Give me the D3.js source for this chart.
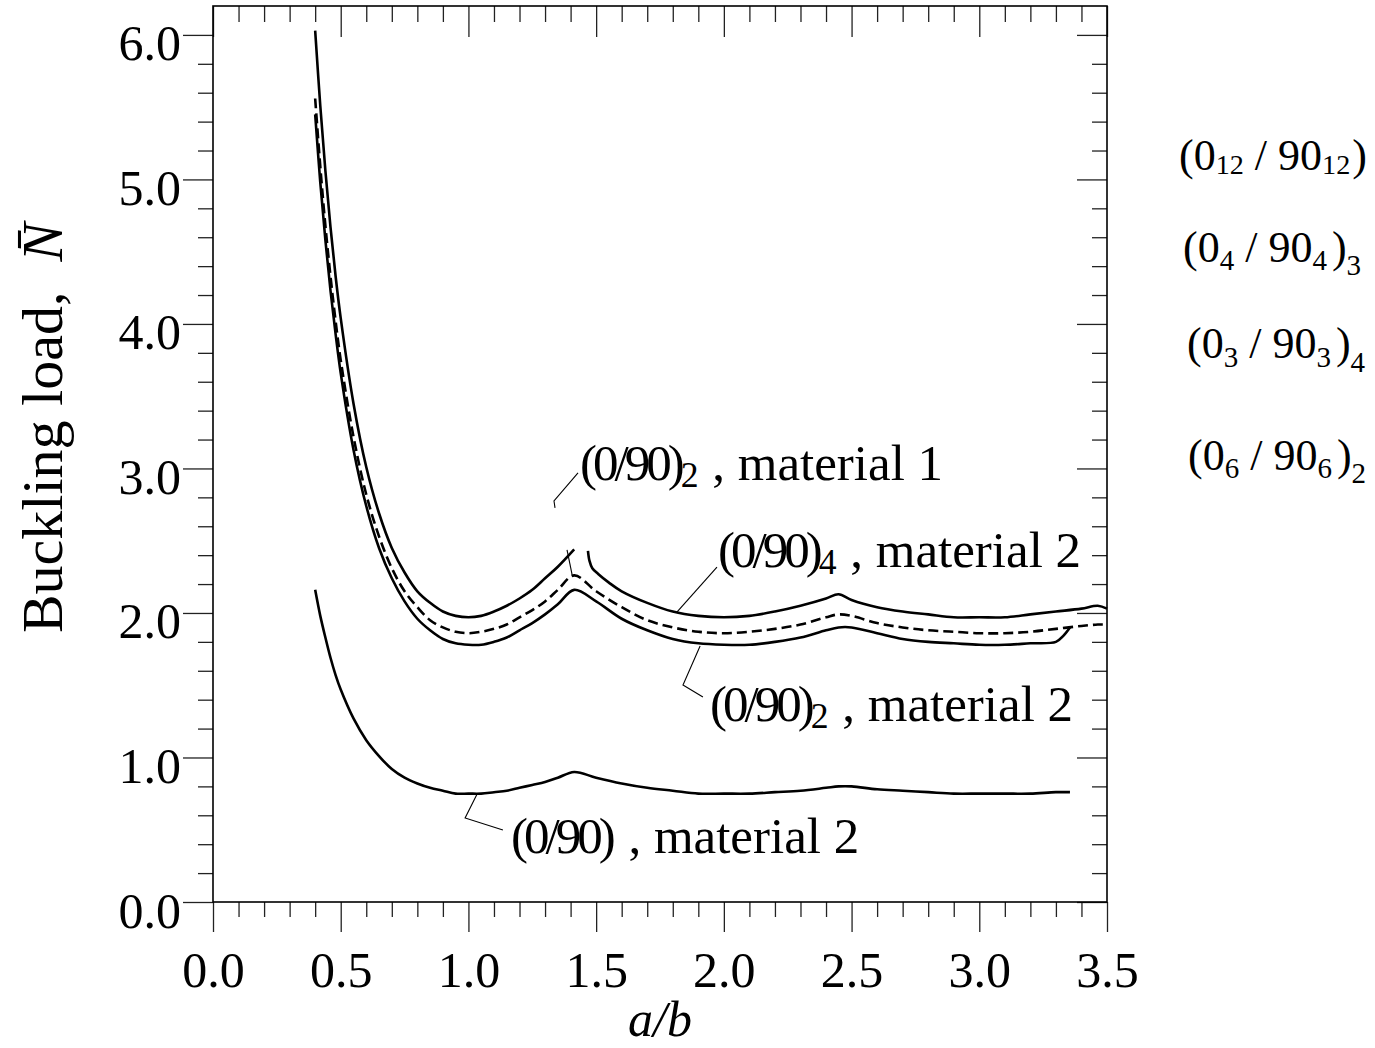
<!DOCTYPE html>
<html>
<head>
<meta charset="utf-8">
<script src="https://cdn.jsdelivr.net/npm/d3@7"></script>
<style>
  body { margin: 0; background: #fff; }
  svg { display: block; font-family: "Liberation Serif", "Times New Roman", serif; }
</style>
</head>
<body>
<svg id="chart"></svg>
<script>
const W = 1375, H = 1048;

// a/b positions used by the curves
const aBranch1 = [0.40,0.42,0.44,0.46,0.48,0.50,0.55,0.60,0.65,0.70,0.75,0.80,0.85,0.90,0.95,1.00,1.05,1.10,1.15,1.20,1.25,1.30,1.35,1.414];
const aBranch2 = [1.50,1.60,1.70,1.80,1.90,2.00,2.10,2.20,2.30,2.40,2.449];
const aBranch3 = [2.50,2.60,2.70,2.80,2.90,3.00,3.10,3.20,3.30];
const aTail = [3.40,3.464,3.50];

// (0/90)2, material 1 : top solid curve, broken near a/b = 1.45
const mat1LeftN = [6.03,5.51,5.06,4.67,4.33,4.04,3.45,3.01,2.69,2.45,2.28,2.15,2.07,2.01,1.98,1.97,1.98,2.01,2.05,2.10,2.16,2.24,2.32,2.44];
const mat1RightA = [1.468,1.474,1.485,1.508,1.55,1.60,1.70,1.80,1.90,2.00,2.10,2.20,2.30,2.40,2.449,2.50,2.60,2.70,2.80,2.90,3.00,3.10,3.20,3.30,3.40,3.464,3.50];
const mat1RightN = [2.43,2.36,2.31,2.27,2.21,2.15,2.07,2.01,1.98,1.97,1.98,2.01,2.05,2.10,2.13,2.09,2.04,2.01,1.99,1.97,1.97,1.97,1.99,2.01,2.03,2.05,2.03];

// dashed curve
const dashedN = [5.56,5.09,4.68,4.33,4.02,3.75,3.22,2.82,2.53,2.31,2.15,2.04,1.95,1.90,1.87,1.86,1.87,1.89,1.92,1.97,2.02,2.08,2.16,2.26,
  2.15,2.04,1.95,1.90,1.87,1.86,1.87,1.89,1.92,1.97,1.99,
  1.98,1.93,1.90,1.88,1.87,1.86,1.86,1.87,1.89,1.91,1.92,1.92];

// (0/90)2, material 2 : lower solid curve
const lowerHookA = [3.328,3.355];
const lowerN = [5.45,4.98,4.58,4.23,3.93,3.66,3.13,2.74,2.45,2.24,2.08,1.96,1.88,1.82,1.79,1.78,1.78,1.80,1.83,1.88,1.93,1.99,2.06,2.16,
  2.08,1.96,1.88,1.82,1.79,1.78,1.78,1.80,1.83,1.88,1.90,
  1.90,1.86,1.82,1.80,1.79,1.78,1.78,1.79,1.80,
  1.84,1.90];

// (0/90), material 2 : bottom curve
const bottomEndA = [3.355];
const bottomN = [2.16,1.98,1.83,1.69,1.57,1.47,1.27,1.12,1.01,0.92,0.86,0.82,0.79,0.77,0.75,0.75,0.75,0.76,0.77,0.79,0.81,0.83,0.86,0.90,
  0.86,0.82,0.79,0.77,0.75,0.75,0.75,0.76,0.77,0.79,0.80,
  0.80,0.78,0.77,0.76,0.75,0.75,0.75,0.75,0.76,
  0.76];

// leader lines (a/b, N)
const leaders = [
  [[1.429,2.969],[1.335,2.775],[1.339,2.727]],
  [[1.973,2.318],[1.817,2.007]],
  [[1.918,1.419],[1.840,1.502],[1.907,1.772]],
  [[1.135,0.498],[0.987,0.581],[1.034,0.747]],
  [[1.386,2.436],[1.406,2.263]]
];

const xMajor = [0,0.5,1,1.5,2,2.5,3,3.5];
const yMajor = [0,1,2,3,4,5,6];

const zip = (a, n) => a.map((v, i) => [v, n[i]]);
const aFull = aBranch1.concat(aBranch2, aBranch3, aTail);

const svg = d3.select("#chart").attr("width", W).attr("height", H);

const x = d3.scaleLinear().domain([0, 3.5]).range([213, 1107]);
const y = d3.scaleLinear().domain([0, 6.2]).range([902, 6]);

const xMinor = d3.range(0, 36).map(i => i / 10).filter(v => Math.abs(v * 2 - Math.round(v * 2)) > 1e-6);
const yMinor = d3.range(0, 31).map(i => i / 5).filter(v => Math.abs(v - Math.round(v)) > 1e-6 && v < 6.2);

function styleAxis(g) {
  g.select(".domain").remove();
  g.selectAll(".tick line").attr("stroke", "#222").attr("stroke-width", 1.3);
  g.selectAll("text").attr("font-family", "Liberation Serif").attr("font-size", 50).attr("fill", "#000");
}

// bottom
svg.append("g").attr("transform", "translate(0,902)")
  .call(d3.axisBottom(x).tickValues(xMajor).tickSize(30).tickPadding(19).tickFormat(d3.format(".1f")))
  .call(styleAxis);
svg.append("g").attr("transform", "translate(0,902)")
  .call(d3.axisBottom(x).tickValues(xMinor).tickSize(15).tickFormat(""))
  .call(styleAxis);
// top (ticks inward)
svg.append("g").attr("transform", "translate(0,6)")
  .call(d3.axisBottom(x).tickValues(xMajor).tickSize(31).tickFormat(""))
  .call(styleAxis);
svg.append("g").attr("transform", "translate(0,6)")
  .call(d3.axisBottom(x).tickValues(xMinor).tickSize(16).tickFormat(""))
  .call(styleAxis);
// left
svg.append("g").attr("transform", "translate(213,0)")
  .call(d3.axisLeft(y).tickValues(yMajor).tickSize(30).tickPadding(2).tickFormat(d3.format(".1f")))
  .call(styleAxis)
  .call(g => g.selectAll("text").attr("dy", "0.5em"));
svg.append("g").attr("transform", "translate(213,0)")
  .call(d3.axisLeft(y).tickValues(yMinor).tickSize(15).tickFormat(""))
  .call(styleAxis);
// right (ticks inward)
svg.append("g").attr("transform", "translate(1107,0)")
  .call(d3.axisLeft(y).tickValues(yMajor).tickSize(30).tickFormat(""))
  .call(styleAxis);
svg.append("g").attr("transform", "translate(1107,0)")
  .call(d3.axisLeft(y).tickValues(yMinor).tickSize(15).tickFormat(""))
  .call(styleAxis);

// frame
svg.append("rect")
  .attr("x", x(0)).attr("y", y(6.2))
  .attr("width", x(3.5) - x(0)).attr("height", y(0) - y(6.2))
  .attr("fill", "none").attr("stroke", "#000").attr("stroke-width", 1.6);

// curves
const line = d3.line().x(d => x(d[0])).y(d => y(d[1])).curve(d3.curveCatmullRom.alpha(0.5));
const curves = [
  { pts: zip(aBranch1, mat1LeftN) },
  { pts: zip(mat1RightA, mat1RightN) },
  { pts: zip(aFull, dashedN), dash: "10,5" },
  { pts: zip(aBranch1.concat(aBranch2, aBranch3, lowerHookA), lowerN) },
  { pts: zip(aBranch1.concat(aBranch2, aBranch3, bottomEndA), bottomN) }
];
svg.append("g").selectAll("path").data(curves).enter().append("path")
  .attr("d", d => line(d.pts))
  .attr("fill", "none").attr("stroke", "#000").attr("stroke-width", 2.6)
  .attr("stroke-dasharray", d => d.dash || null);

// leaders
const lead = d3.line().x(d => x(d[0])).y(d => y(d[1]));
svg.append("g").selectAll("path").data(leaders).enter().append("path")
  .attr("d", lead).attr("fill", "none").attr("stroke", "#000").attr("stroke-width", 1.1);

// text with subscripts
function rich(x0, y0, size, subScale, parts) {
  const t = svg.append("text").attr("x", x0).attr("y", y0).attr("font-size", size).attr("fill", "#000");
  let shift = 0;
  parts.forEach(p => {
    const s = t.append("tspan").text(p.t);
    const want = p.sub || 0;
    s.attr("dy", want - shift);
    shift = want;
    if (p.sub) s.attr("font-size", size * subScale);
    if (p.ls) s.attr("letter-spacing", p.ls);
    if (p.dx) s.attr("dx", p.dx);
  });
  return t;
}

rich(580, 480, 51, 0.7, [{ t: "(0/90)", ls: -4 }, { t: "2", sub: 7 }, { t: " , material 1", dx: 1 }]);
rich(718, 567, 51, 0.7, [{ t: "(0/90)", ls: -4 }, { t: "4", sub: 7 }, { t: " , material 2", dx: 1 }]);
rich(710, 721, 51, 0.7, [{ t: "(0/90)", ls: -4 }, { t: "2", sub: 7 }, { t: " , material 2", dx: 1 }]);
rich(511, 853, 51, 0.7, [{ t: "(0/90)", ls: -4 }, { t: " , material 2", dx: 4 }]);

rich(1179, 170, 44, 0.64, [{ t: "(0" }, { t: "12", sub: 4 }, { t: " / 90" }, { t: "12", sub: 4 }, { t: ")", dx: 2 }]);
rich(1183, 262, 44, 0.66, [{ t: "(0" }, { t: "4", sub: 8 }, { t: " / 90" }, { t: "4", sub: 8 }, { t: ")", dx: 5 }, { t: "3", sub: 13 }]);
rich(1187, 358, 44, 0.66, [{ t: "(0" }, { t: "3", sub: 9 }, { t: " / 90" }, { t: "3", sub: 9 }, { t: ")", dx: 5 }, { t: "4", sub: 14 }]);
rich(1188, 470, 44, 0.66, [{ t: "(0" }, { t: "6", sub: 8 }, { t: " / 90" }, { t: "6", sub: 8 }, { t: ")", dx: 5 }, { t: "2", sub: 13 }]);

// axis titles
svg.append("text").attr("x", 660).attr("y", 1036).attr("text-anchor", "middle")
  .attr("font-size", 50).attr("font-style", "italic").text("a/b");

const yl = svg.append("text").attr("transform", "translate(62,428) rotate(-90)")
  .attr("text-anchor", "middle").attr("font-size", 58);
yl.append("tspan").text("Buckling load,");
yl.append("tspan").attr("dx", 30).attr("font-style", "italic").text("N\u0304");
</script>
</body>
</html>
